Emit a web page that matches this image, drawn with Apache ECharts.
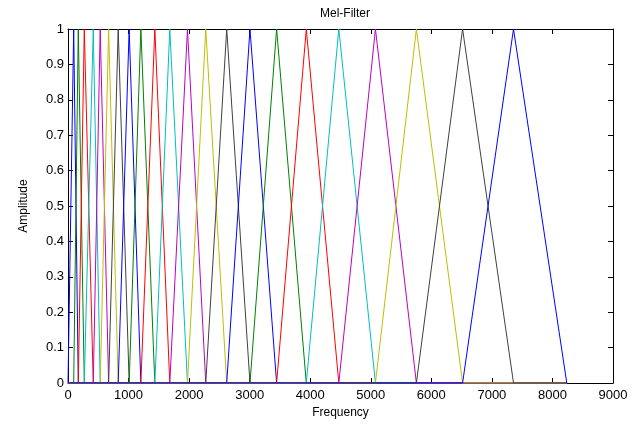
<!DOCTYPE html>
<html>
<head>
<meta charset="utf-8">
<script src="https://cdn.jsdelivr.net/npm/echarts@6/dist/echarts.min.js"></script>
<style>html,body{margin:0;padding:0;background:#fff}#c{width:640px;height:426px}</style>
</head>
<body>
<div id="c"></div>
<script>
// Filter centre frequencies (Hz)
var peaks = [94, 170, 269, 417, 532, 671, 829, 1010, 1203, 1434, 1681, 1973, 2275, 2621, 3005, 3445, 3935, 4472, 5077, 5753, 6516, 7357];
var firstEdge = 0;      // lower edge of the first filter
var lastEdge = 8237;    // upper edge of the last filter
var colorCycle = ['#0000FF', '#008000', '#FF0000', '#00BFBF', '#BF00BF', '#BFBF00', '#404040'];
var xTicks = [0, 1000, 2000, 3000, 4000, 5000, 6000, 7000, 8000, 9000];
var yTicks = [0, 0.1, 0.2, 0.3, 0.4, 0.5, 0.6, 0.7, 0.8, 0.9, 1];

var edges = [firstEdge].concat(peaks).concat([lastEdge]);
var series = peaks.map(function (p, i) {
  var lo = edges[i], hi = edges[i + 2];
  var data = [];
  if (lo > firstEdge) data.push([firstEdge, 0]);
  data.push([lo, 0], [p, 1], [hi, 0]);
  if (hi < lastEdge) data.push([lastEdge, 0]);
  return {
    type: 'line', data: data, showSymbol: false, symbol: 'none',
    lineStyle: { width: 1, color: colorCycle[i % colorCycle.length] },
    itemStyle: { color: colorCycle[i % colorCycle.length] },
    animation: false, z: 2 + i
  };
});

var font = 'Liberation Sans, Arial, sans-serif';
var chart = echarts.init(document.getElementById('c'));
var baseX = { type: 'value', min: 0, max: 9000, interval: 1000, splitLine: { show: false },
  axisLine: { show: true, onZero: false, lineStyle: { color: '#000', width: 1 } },
  axisTick: { show: true, inside: true, length: 5, lineStyle: { color: '#000' } } };
var baseY = { type: 'value', min: 0, max: 1, interval: 0.1, splitLine: { show: false },
  axisLine: { show: true, onZero: false, lineStyle: { color: '#000', width: 1 } },
  axisTick: { show: true, inside: true, length: 5, lineStyle: { color: '#000' } } };
chart.setOption({
  backgroundColor: '#fff',
  animation: false,
  title: { text: 'Mel-Filter', left: 340, top: 3, textAlign: 'center',
    textStyle: { fontFamily: font, fontSize: 12, fontWeight: 'normal', color: '#000' } },
  grid: { left: 68, right: 27, top: 29, bottom: 43 },
  xAxis: [
    Object.assign({}, baseX, { position: 'bottom', name: 'Frequency', nameLocation: 'middle', nameGap: 16,
      nameTextStyle: { fontFamily: font, fontSize: 12, color: '#000' },
      axisLabel: { fontFamily: font, fontSize: 13, color: '#000', margin: 6,
        formatter: function (v) { return xTicks.indexOf(v) >= 0 ? String(v) : ''; } } }),
    Object.assign({}, baseX, { position: 'top', axisLabel: { show: false } })
  ],
  yAxis: [
    Object.assign({}, baseY, { position: 'left', name: 'Amplitude', nameLocation: 'middle', nameGap: 38,
      nameTextStyle: { fontFamily: font, fontSize: 12, color: '#000' },
      axisLabel: { fontFamily: font, fontSize: 13, color: '#000', margin: 4,
        formatter: function (v) { var r = Math.round(v * 10) / 10; return yTicks.indexOf(r) >= 0 ? String(r) : ''; } } }),
    Object.assign({}, baseY, { position: 'right', axisLabel: { show: false } })
  ],
  series: series
});
</script>
</body>
</html>
